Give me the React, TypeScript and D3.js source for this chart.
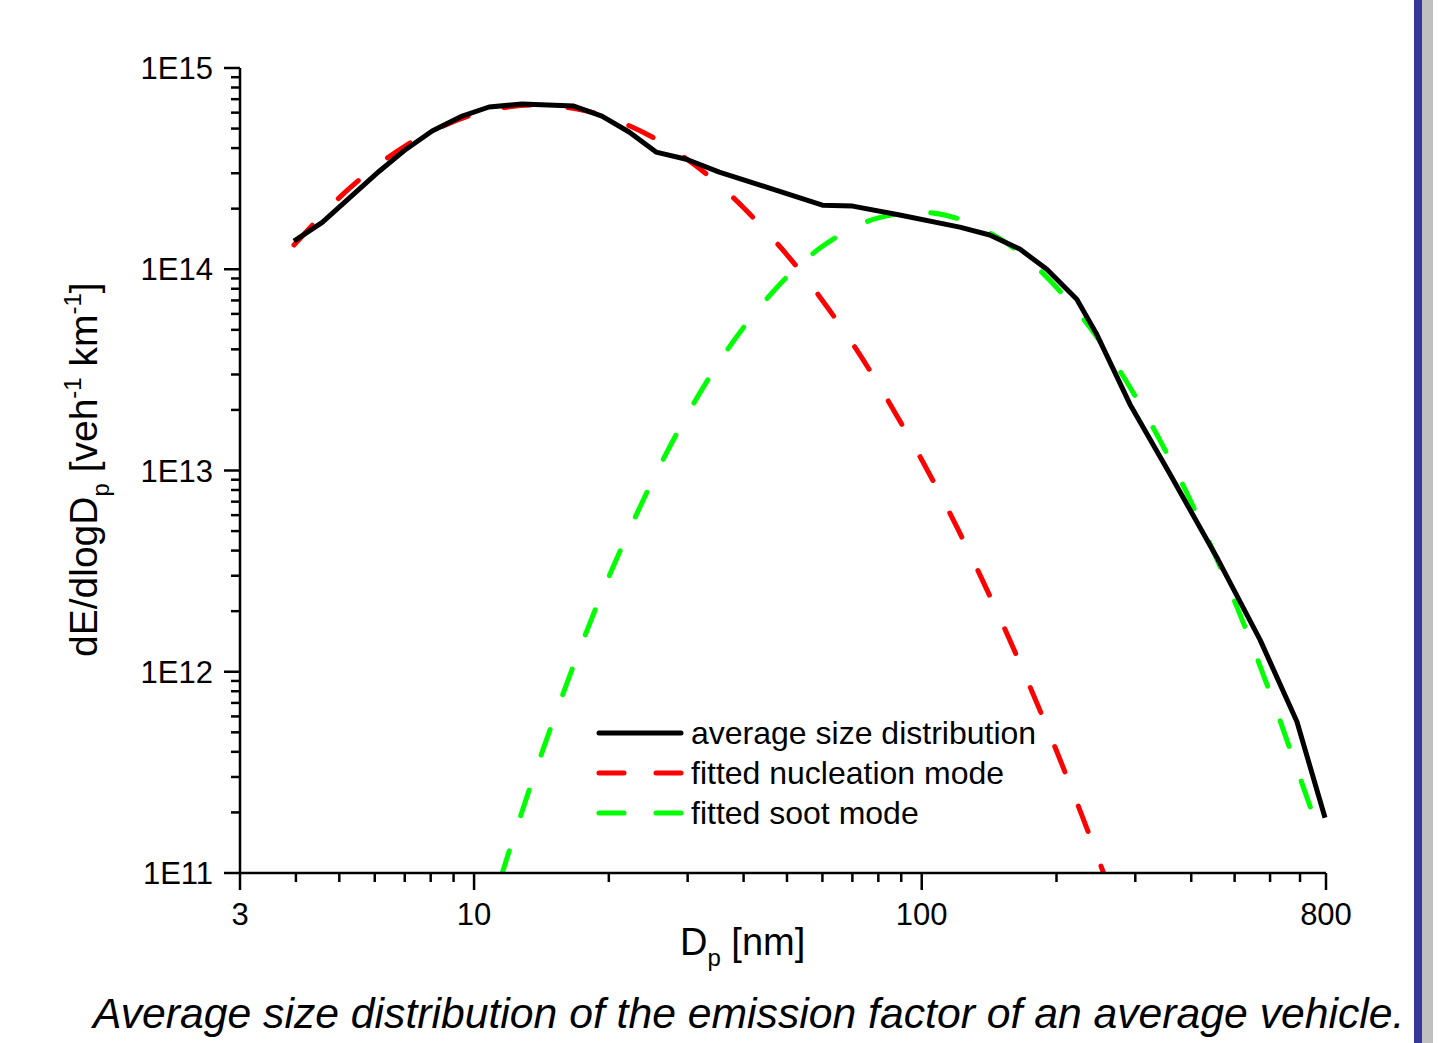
import React from "react";
import * as d3 from "d3";

// ---- data ----
const avgD = [3.96, 4.58, 6.14, 7.05, 8.06, 9.41, 10.8, 12.8, 16.7, 19.3, 22.2, 25.5, 29.8, 35.3, 45.0, 60.0, 70.1, 89.3, 121.6, 141.9, 165.6, 190.3, 222, 246, 292, 358, 459, 570, 689, 796];
const avgE = [1.38e14, 1.71e14, 3.07e14, 3.95e14, 4.86e14, 5.77e14, 6.40e14, 6.62e14, 6.47e14, 5.77e14, 4.81e14, 3.82e14, 3.52e14, 3.04e14, 2.56e14, 2.08e14, 2.06e14, 1.86e14, 1.62e14, 1.48e14, 1.26e14, 1.0e14, 7.1e13, 4.75e13, 2.13e13, 9.66e12, 3.61e12, 1.44e12, 5.64e11, 1.88e11];

const nucD = [3.96, 5, 6, 7, 8, 10, 12, 14, 17, 20, 25, 30, 35, 40, 50, 60, 70, 80, 100, 120, 150, 180, 200, 220, 240, 260];
const nucE = [1.32e14, 2.27e14, 3.21e14, 4.08e14, 4.83e14, 5.89e14, 6.42e14, 6.55e14, 6.25e14, 5.67e14, 4.54e14, 3.50e14, 2.67e14, 2.02e14, 1.18e14, 7.0e13, 4.28e13, 2.68e13, 1.13e13, 5.2e12, 1.82e12, 7.16e11, 4.05e11, 2.37e11, 1.43e11, 8.86e10];

const sootD = [11.5, 12, 14, 17, 20, 25, 30, 35, 40, 50, 60, 70, 80, 100, 120, 150, 180, 220, 260, 300, 350, 400, 500, 600, 700, 780];
const sootE = [9.6e10, 1.3e11, 3.66e11, 1.2e12, 2.96e12, 8.84e12, 1.91e13, 3.36e13, 5.14e13, 9.17e13, 1.3e14, 1.6e14, 1.8e14, 1.92e14, 1.79e14, 1.41e14, 1.03e14, 6.38e13, 3.87e13, 2.34e13, 1.26e13, 6.95e12, 2.24e12, 7.86e11, 2.97e11, 1.5e11];

const xTickValues = [3, 10, 100, 800];
const xTickLabels = ["3", "10", "100", "800"];
const yTickValues = [1e11, 1e12, 1e13, 1e14, 1e15];
const yTickLabels = ["1E11", "1E12", "1E13", "1E14", "1E15"];

const legendLabels = ["average size distribution", "fitted nucleation mode", "fitted soot mode"];
const caption = "Average size distribution of the emission factor of an average vehicle.";

const FONT = "'Liberation Sans', Arial, sans-serif";

export default function App() {
  const W = 1450, H = 1043;
  const left = 240, right = 1326, top = 68, bottom = 873;
  const x = d3.scaleLog().domain([3, 800]).range([left, right]);
  const y = d3.scaleLog().domain([1e11, 1e15]).range([bottom, top]);

  const lineLin = d3.line<[number, number]>().x(d => x(d[0])).y(d => y(d[1]));
  const lineSmooth = d3.line<[number, number]>().x(d => x(d[0])).y(d => y(d[1])).curve(d3.curveCatmullRom.alpha(0.5));

  const avgPts = avgD.map((d, i) => [d, avgE[i]] as [number, number]);
  const nucPts = nucD.map((d, i) => [d, nucE[i]] as [number, number]);
  const sootPts = sootD.map((d, i) => [d, sootE[i]] as [number, number]);

  const xMinor: number[] = [];
  for (const dec of [1, 10, 100]) {
    for (let m = 2; m <= 9; m++) {
      const v = m * dec;
      if (v > 3 && v < 800 && v !== 10 && v !== 100) xMinor.push(v);
    }
  }
  const yMinor: number[] = [];
  for (const dec of [1e11, 1e12, 1e13, 1e14]) {
    for (let m = 2; m <= 9; m++) yMinor.push(m * dec);
  }

  const legendY = [733, 773, 813];
  const legendStyles = [
    { stroke: "#000000", dash: undefined as string | undefined },
    { stroke: "#ff0000", dash: "25 32" },
    { stroke: "#00ff00", dash: "25 32" },
  ];

  return (
    <svg width={W} height={H} style={{ position: "absolute", left: 0, top: 0, background: "#fff" }} fontFamily={FONT}>
      <rect x={0} y={0} width={W} height={H} fill="#ffffff" />
      <defs>
        <clipPath id="plotClip">
          <rect x={left} y={top - 10} width={right - left + 10} height={bottom - top + 10} />
        </clipPath>
      </defs>

      <rect x={1414} y={0} width={8} height={H} fill="#38389a" />
      <rect x={1422} y={0} width={11} height={H} fill="#c0c0c0" />

      <g clipPath="url(#plotClip)" fill="none" strokeWidth={5}>
        <path d={lineSmooth(sootPts) || ""} stroke="#00ff00" strokeDasharray="27 37" strokeLinecap="round" />
        <path d={lineSmooth(nucPts) || ""} stroke="#ff0000" strokeDasharray="27 37" strokeLinecap="round" />
        <path d={lineLin(avgPts) || ""} stroke="#000000" strokeLinejoin="round" />
      </g>

      <g stroke="#000" strokeWidth={2.5} fill="none">
        <line x1={left} y1={top} x2={left} y2={bottom + 1} />
        <line x1={left - 1} y1={bottom} x2={right} y2={bottom} />
        {yTickValues.map(v => (
          <line key={"yM" + v} x1={left - 16} x2={left} y1={y(v)} y2={y(v)} />
        ))}
        {yMinor.map(v => (
          <line key={"ym" + v} x1={left - 9} x2={left} y1={y(v)} y2={y(v)} />
        ))}
        {xTickValues.map(v => (
          <line key={"xM" + v} x1={x(v)} x2={x(v)} y1={bottom} y2={bottom + 17} />
        ))}
        {xMinor.map(v => (
          <line key={"xm" + v} x1={x(v)} x2={x(v)} y1={bottom} y2={bottom + 9} />
        ))}
      </g>

      <g fontSize={31} fill="#000">
        {yTickValues.map((v, i) => (
          <text key={"yl" + v} x={213} y={y(v) + 11} textAnchor="end">{yTickLabels[i]}</text>
        ))}
        {xTickValues.map((v, i) => (
          <text key={"xl" + v} x={x(v)} y={925} textAnchor="middle">{xTickLabels[i]}</text>
        ))}
      </g>

      <text x={680} y={955} fontSize={38} fill="#000">
        D<tspan fontSize={24} dy={11}>p</tspan><tspan dy={-11}> [nm]</tspan>
      </text>
      <text transform="translate(97,657) rotate(-90)" x={0} y={0} fontSize={39} fill="#000">
        dE/dlogD<tspan fontSize={24} dy={12}>p</tspan><tspan dy={-12}> [veh</tspan><tspan fontSize={24} dy={-16}>-1</tspan><tspan dy={16}> km</tspan><tspan fontSize={24} dy={-16}>-1</tspan><tspan dy={16}>]</tspan>
      </text>

      {legendLabels.map((lab, i) => (
        <g key={lab}>
          <line x1={599} x2={681} y1={legendY[i]} y2={legendY[i]} stroke={legendStyles[i].stroke} strokeWidth={5}
            strokeDasharray={legendStyles[i].dash} strokeLinecap="round" />
          <text x={691} y={legendY[i] + 11} fontSize={32} fill="#000">{lab}</text>
        </g>
      ))}

      <text x={93} y={1028} fontSize={42.7} fontStyle="italic" fill="#000">{caption}</text>
    </svg>
  );
}
